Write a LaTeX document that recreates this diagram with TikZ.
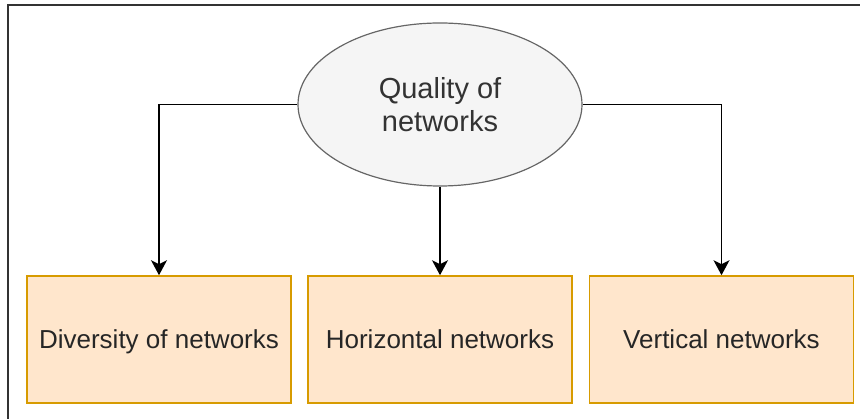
\documentclass[tikz,border=0pt]{standalone}
\usepackage{fontspec}
\setmainfont{Liberation Sans}
\usetikzlibrary{shapes.geometric,arrows.meta}
\definecolor{ovalfill}{HTML}{F5F5F5}
\definecolor{ovaldraw}{HTML}{666666}
\definecolor{ovaltext}{HTML}{333333}
\definecolor{boxfill}{HTML}{FFE6CC}
\definecolor{boxdraw}{HTML}{D79B00}
\definecolor{framedraw}{HTML}{333333}
\begin{document}
\begin{tikzpicture}[x=1pt,y=-1pt]
    \tikzset{
        oval/.style={draw=ovaldraw, fill=ovalfill, ellipse, line width=1.2pt, minimum width=284pt, minimum height=163pt, inner sep=0pt, text=ovaltext, align=center, font=\fontsize{29}{33}\selectfont},
        block/.style={draw=boxdraw, fill=boxfill, line width=1.6pt, minimum width=264pt, minimum height=127pt, inner sep=0pt, text height=19pt, text depth=0pt, text=black!85, font=\fontsize{26}{33}\selectfont},
        arc/.style={-{Stealth[length=15pt, width=16pt, inset=4pt]}, line width=1.6pt, black}
    }
    \useasboundingbox (0,0) rectangle (860,419);
    \draw[framedraw, line width=2pt] (8,425) -- (8,5) -- (866,5);

    \draw node[oval] (q) at (440,104.5) {Quality of\\networks};
    \draw node[block] (d) at (159,339.5) {Diversity of networks};
    \draw node[block] (h) at (440,339.5) {Horizontal networks};
    \draw node[block] (v) at (721.5,339.5) {Vertical networks};

    \draw[arc] (q.west) -| (d.north);
    \draw[arc] (q.south) -- (h.north);
    \draw[arc] (q.east) -| (v.north);
\end{tikzpicture}
\end{document}
